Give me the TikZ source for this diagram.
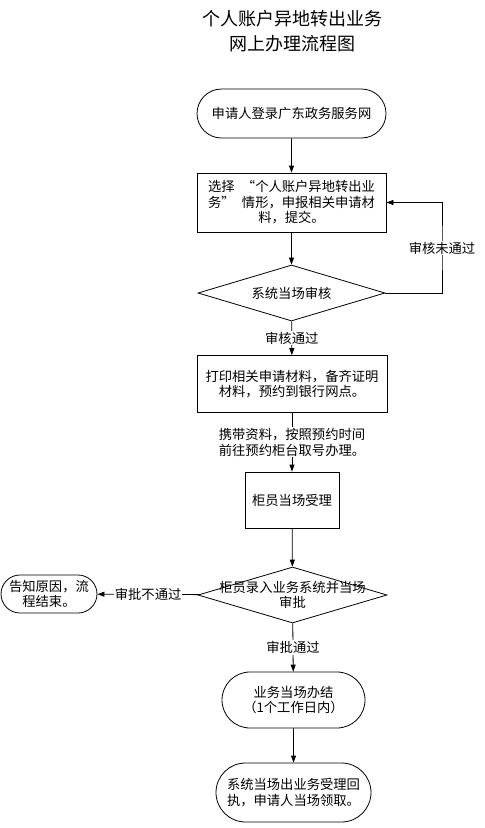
\documentclass[tikz,border=0pt]{standalone}
\usepackage{fontspec}
\setmainfont{Noto Sans CJK SC}
\usetikzlibrary{shapes.geometric,shapes.misc,arrows.meta}
\newcommand\myLQ{\kern0.55em“}
\newcommand\myRQ{”\kern0.55em}
\begin{document}
\begin{tikzpicture}[x=1pt,y=-1pt,
  every node/.style={font=\fontsize{13.3}{15.5}\selectfont},
  base/.style={draw=black,line width=0.8pt,inner sep=0pt,align=center},
  term/.style={base,rounded rectangle},
  proc/.style={base,rectangle},
  dec/.style={base,diamond},
  arrow/.style={-{Triangle[length=7pt,width=5pt]},line width=0.8pt},
  lbl/.style={fill=white,inner sep=1pt,align=center}]
\useasboundingbox (0,0) rectangle (485,828);
\node[font=\fontsize{18}{25}\selectfont,align=center] (title) at (292,31) {个人账户异地转出业务\\网上办理流程图};
\node[term,minimum width=189pt,minimum height=49pt] (s1) at (291.5,113.5) {申请人登录广东政务服务网};
\node[proc,minimum width=189pt,minimum height=59pt] (b2) at (291.5,202.5) {选择\myLQ 个人账户异地转出业\\务\myRQ 情形，申报相关申请材\\料，提交。};
\node[dec,minimum width=187pt,minimum height=56pt,label={[align=center]center:系统当场审核}] (d1) at (291.5,293) {};
\node[proc,minimum width=190pt,minimum height=57pt] (b3) at (292,384) {打印相关申请材料，备齐证明\\材料，预约到银行网点。};
\node[proc,minimum width=94pt,minimum height=56pt] (b4) at (292,500) {柜员当场受理};
\node[dec,minimum width=189pt,minimum height=56pt,label={[align=center]center:柜员录入业务系统并当场\\审批}] (d2) at (292.5,595) {};
\node[term,minimum width=96pt,minimum height=38pt] (e1) at (49,594) {告知原因，流\\程结束。};
\node[term,minimum width=143pt,minimum height=56pt] (t3) at (293.5,700) {业务当场办结\\（1个工作日内）};
\node[term,minimum width=155pt,minimum height=59pt] (t4) at (293.5,792.5) {系统当场出业务受理回\\执，申请人当场领取。};
\coordinate (fb) at (442,248);
\draw[arrow] (s1) -- (b2);
\draw[arrow] (b2) -- (d1);
\draw[arrow] (d1.east) -| (fb) node[lbl]{审核未通过} |- (b2.east);
\draw[arrow] (d1) -- node[lbl]{审核通过} (b3);
\draw[arrow] (b3) -- node[lbl]{携带资料，按照预约时间\\前往预约柜台取号办理。} (b4);
\draw[arrow] (b4) -- (d2);
\draw[arrow] (d2) -- node[lbl]{审批不通过} (e1);
\draw[arrow] (d2) -- node[lbl]{审批通过} (t3);
\draw[arrow] (t3) -- (t4);
\end{tikzpicture}
\end{document}
